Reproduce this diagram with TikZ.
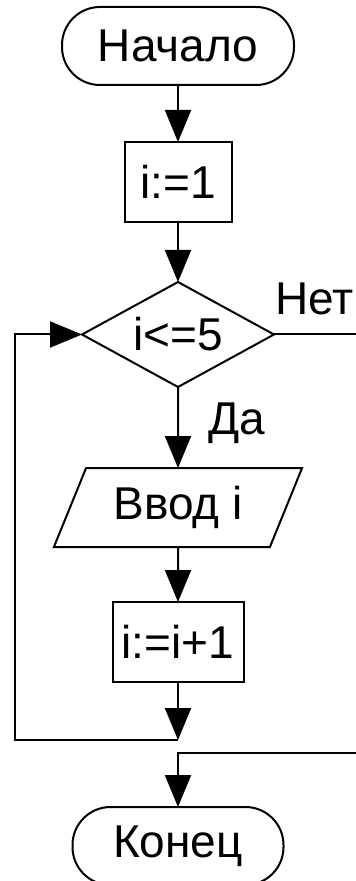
\documentclass[tikz,border=0pt]{standalone}
\usepackage{fontspec}
\setmainfont{Liberation Sans}
\usetikzlibrary{positioning,shapes.geometric,arrows.meta}

\begin{document}
\begin{tikzpicture}[x=0.5pt,y=-0.5pt,line width=1pt,
    every node/.style={font=\fontsize{23}{26}\selectfont,outer sep=0pt},
    terminal/.style={rectangle, draw, rounded corners=19pt, minimum height=39pt, inner sep=0pt},
    action/.style={rectangle, draw, minimum height=40pt, inner sep=0pt},
    decision/.style={diamond, draw, aspect=1.83, minimum width=96pt, minimum height=52.5pt, inner sep=0pt},
    inout/.style={trapezium, draw, trapezium left angle=62, trapezium right angle=118, trapezium stretches=true, minimum width=125pt, minimum height=39.5pt, inner sep=0pt},
    answer/.style={inner sep=0pt},
    arr/.style={-{Triangle[width=13pt,length=16pt]}}]
        \useasboundingbox (0,0) rectangle (356,881);
        % Nodes
        \node [terminal,minimum width=116pt] (start) at (178,46) {Начало};
        \node [below=28.5pt of start,action,minimum width=53.5pt] (init) {i:=1};
        \node [below=30pt of init,decision] (cond) {i<=5};
        \node [below=40.5pt of cond,inout] (input) {Ввод i};
        \node [below=27.5pt of input,action,minimum width=65.5pt] (incr) {i:=i+1};
        \node [below=62.5pt of incr,terminal,minimum width=105.5pt] (stop) {Конец};

        \coordinate (join) at ([yshift=-29pt]incr.south);
        \coordinate (left) at (15,0);
        \coordinate (rim) at (360,0);
        \path (join -| rim) ++(0,13) coordinate (nin);

        % Arrows
        \draw[arr] (start) -- (init);
        \draw[arr] (init) -- (cond);
        \draw[arr] (cond) -- node[answer,right,pos=0.45,xshift=15pt]{Да} (input);
        \draw[arr] (input) -- (incr);
        \draw[arr] (incr) -- (join);
        \draw[arr] (join) -- (join -| left) |- (cond.west);
        \draw (cond.east) -- (cond.east -| rim);
        \node [answer,anchor=south west] (no) at ([xshift=0.5pt,yshift=10pt]cond.east) {Нет};
        \draw[arr] (nin) -| (stop);
\end{tikzpicture}
\end{document}
